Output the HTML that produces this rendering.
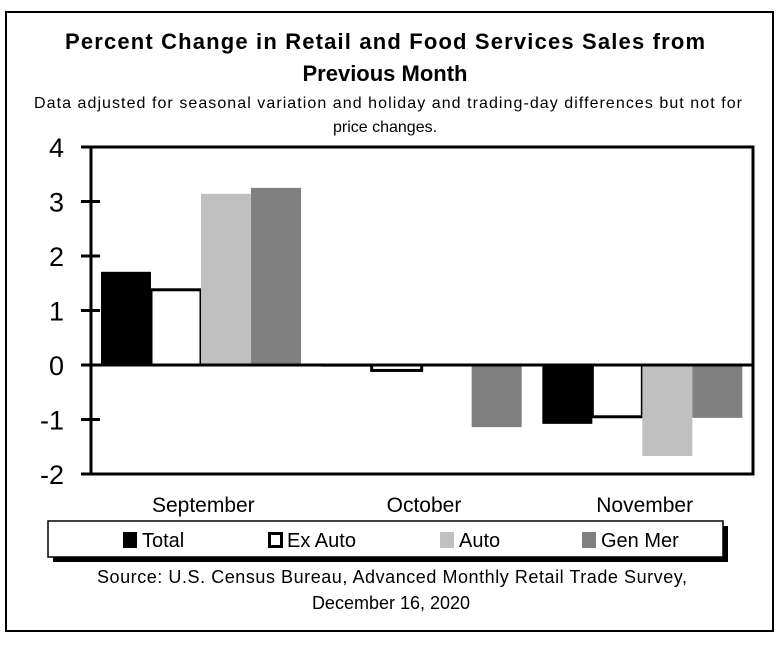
<!DOCTYPE html>
<html><head><meta charset="utf-8"><style>
body{margin:0;background:#fff;}
svg text{font-family:"Liberation Sans",sans-serif;}
</style></head><body>
<svg width="781" height="643" xmlns="http://www.w3.org/2000/svg">
<rect x="6" y="12" width="767" height="619" fill="#fff" stroke="#000" stroke-width="2"/>
<text x="385" y="49" text-anchor="middle" font-size="22" font-weight="bold" textLength="640">Percent Change in Retail and Food Services Sales from</text>
<text x="385" y="81" text-anchor="middle" font-size="22" font-weight="bold">Previous Month</text>
<text x="388" y="108" text-anchor="middle" font-size="16" textLength="708">Data adjusted for seasonal variation and holiday and trading-day differences but not for</text>
<text x="385" y="132" text-anchor="middle" font-size="16">price changes.</text>
<g id="plot"></g>
<g>
<rect x="53" y="526" width="675" height="36" fill="#000"/>
<rect x="48" y="521" width="675" height="36" fill="#fff" stroke="#000" stroke-width="1.5"/>
<rect x="123" y="532" width="14" height="16" fill="#000"/>
<text x="142" y="547" font-size="20">Total</text>
<rect x="269.5" y="533.5" width="12" height="13" fill="#fff" stroke="#000" stroke-width="3"/>
<text x="287" y="547" font-size="20">Ex Auto</text>
<rect x="440" y="532" width="14" height="16" fill="#c0c0c0"/>
<text x="459" y="547" font-size="20">Auto</text>
<rect x="582" y="532" width="14" height="16" fill="#808080"/>
<text x="601" y="547" font-size="20">Gen Mer</text>
</g>
<text x="392" y="583" text-anchor="middle" font-size="18" textLength="590">Source: U.S. Census Bureau, Advanced Monthly Retail Trade Survey,</text>
<text x="391" y="609" text-anchor="middle" font-size="18">December 16, 2020</text>
</svg>
<script>
const categories = ["September","October","November"];
const seriesNames = ["Total","Ex Auto","Auto","Gen Mer"];
const totalVals = [1.71, -0.03, -1.08];
const exAutoVals = [1.38, -0.10, -0.95];
const autoVals = [3.14, 0.0, -1.67];
const genMerVals = [3.25, -1.14, -0.97];
const yTicks = [4,3,2,1,0,-1,-2];

const NS="http://www.w3.org/2000/svg";
const L=91,R=753,T=147,B=474,yMin=-2,yMax=4;
const y=v=>T+(yMax-v)/(yMax-yMin)*(B-T);
const groupW=(R-L)/categories.length;
const barW=50;
const g=document.getElementById('plot');
function mk(tag,attrs){const e=document.createElementNS(NS,tag);for(const k in attrs)e.setAttribute(k,attrs[k]);g.appendChild(e);return e;}
const series=[totalVals,exAutoVals,autoVals,genMerVals];
const fills=["#000","#fff","#c0c0c0","#808080"];
const keys=["total","ex-auto","auto","gen-mer"];
series.forEach((vals,si)=>{
  vals.forEach((v,ci)=>{
    const x=L+ci*groupW+10+si*barW;
    const y0=y(0),y1=y(v);
    const r=mk('rect',{x:x,y:Math.min(y0,y1),width:barW,height:Math.max(Math.abs(y1-y0),1),fill:fills[si]});
    if(si===1){r.setAttribute('stroke','#000');r.setAttribute('stroke-width','3');}
    
    
  });
});
const f=mk('rect',{x:L,y:T,width:R-L,height:B-T,fill:'none',stroke:'#000','stroke-width':3});


const z=mk('line',{x1:L,x2:R,y1:y(0),y2:y(0),stroke:'#000','stroke-width':3});


yTicks.forEach(t=>{
  const tk=mk('line',{x1:L-10,x2:L+9,y1:y(t),y2:y(t),stroke:'#000','stroke-width':3});
  
  
  const lb=mk('text',{x:64,y:y(t)+10,'text-anchor':'end','font-size':27});
  lb.textContent=t;
  
  
});
categories.forEach((c,ci)=>{
  const lb=mk('text',{x:L+ci*groupW+groupW/2+2,y:512,'text-anchor':'middle','font-size':21});
  lb.textContent=c;
  
  
});
</script>
</body></html>
